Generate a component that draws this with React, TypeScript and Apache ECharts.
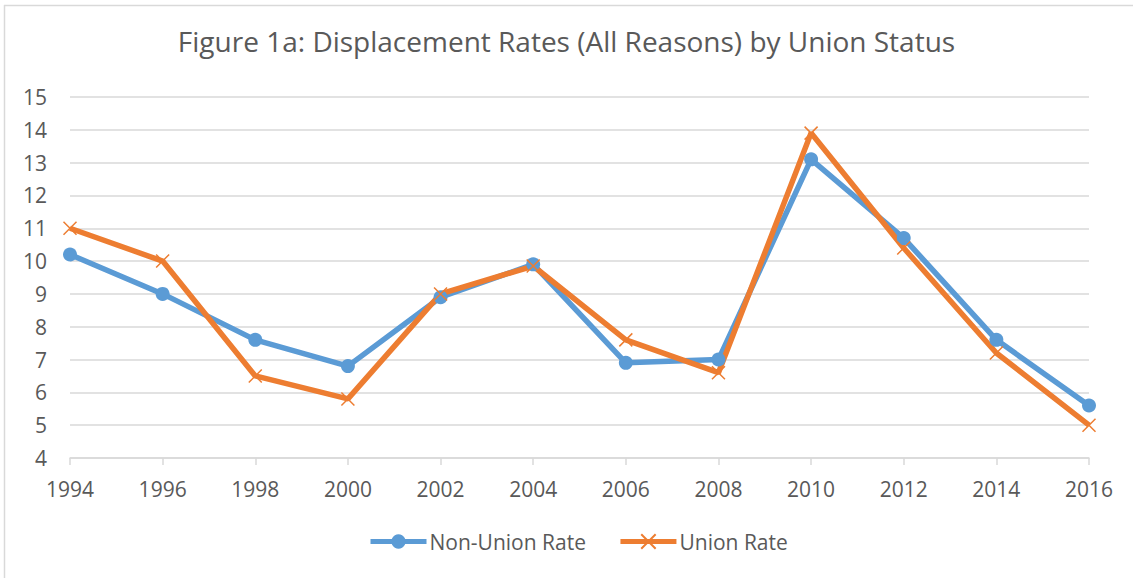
import React, { useEffect, useRef } from "react";
import * as echarts from "echarts";

const years = ["1994", "1996", "1998", "2000", "2002", "2004", "2006", "2008", "2010", "2012", "2014", "2016"];
const nonUnionRate = [10.2, 9.0, 7.6, 6.8, 8.9, 9.9, 6.9, 7.0, 13.1, 10.7, 7.6, 5.6];
const unionRate = [11.0, 10.0, 6.5, 5.8, 9.0, 9.85, 7.6, 6.6, 13.9, 10.4, 7.2, 5.0];

const FONT = "'Open Sans', sans-serif";
const TEXT = "#595959";
const GRID = "#d9d9d9";
const BLUE = "#5B9BD5";
const ORANGE = "#ED7D31";
const X_SYMBOL = "path://M0,0L20,20M20,0L0,20";

export default function App() {
  const ref = useRef<HTMLDivElement>(null);
  useEffect(() => {
    if (!ref.current) return;
    const chart = echarts.init(ref.current, undefined, { renderer: "svg" });
    chart.setOption({
      animation: false,
      backgroundColor: "#ffffff",
      textStyle: { fontFamily: FONT },
      title: {
        text: "Figure 1a: Displacement Rates (All Reasons) by Union Status",
        left: "center",
        top: 27,
        padding: 0,
        textStyle: { fontFamily: FONT, fontSize: 28, fontWeight: "normal", color: TEXT },
      },
      graphic: [
        { type: "line", shape: { x1: 4.5, y1: 5, x2: 4.5, y2: 578 }, style: { stroke: GRID, lineWidth: 1.5 } },
        { type: "line", shape: { x1: 4, y1: 5.5, x2: 1133, y2: 5.5 }, style: { stroke: GRID, lineWidth: 1.5 } },
      ],
      legend: {
        top: 531,
        left: 368,
        padding: 0,
        itemWidth: 56,
        itemHeight: 18,
        itemGap: 32,
        lineStyle: { width: 5 },
        textStyle: { fontFamily: FONT, fontSize: 21, color: TEXT, padding: [0, 0, 0, -2] },
        data: ["Non-Union Rate", "Union Rate"],
      },
      grid: { left: 70, right: 44, top: 97, bottom: 120, containLabel: false },
      xAxis: {
        type: "category",
        data: years,
        boundaryGap: false,
        axisLine: { lineStyle: { color: GRID, width: 1.5 } },
        axisTick: { show: true, length: 7, lineStyle: { color: GRID, width: 1.5 } },
        axisLabel: { color: TEXT, fontSize: 21, fontFamily: FONT, margin: 20 },
        splitLine: { show: false },
      },
      yAxis: {
        type: "value",
        min: 4,
        max: 15,
        interval: 1,
        axisLine: { show: false },
        axisTick: { show: false },
        axisLabel: { color: TEXT, fontSize: 21, fontFamily: FONT, margin: 23 },
        splitLine: { lineStyle: { color: GRID, width: 1.5 } },
      },
      series: [
        {
          name: "Non-Union Rate",
          type: "line",
          data: nonUnionRate,
          symbol: "circle",
          symbolSize: 14,
          lineStyle: { color: BLUE, width: 5.5 },
          itemStyle: { color: BLUE },
        },
        {
          name: "Union Rate",
          type: "line",
          data: unionRate,
          symbol: X_SYMBOL,
          symbolSize: 13,
          lineStyle: { color: ORANGE, width: 5.5 },
          itemStyle: { color: ORANGE, borderColor: ORANGE, borderWidth: 1.5 },
        },
      ],
    });
    return () => chart.dispose();
  }, []);
  return <div ref={ref} style={{ position: "fixed", left: 0, top: 0, width: 1133, height: 578 }} />;
}
